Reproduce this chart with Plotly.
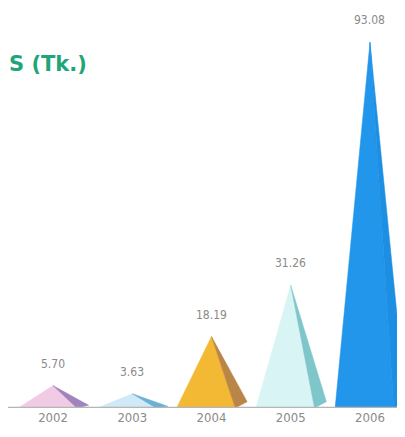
import plotly.graph_objects as go

years = ["2002", "2003", "2004", "2005", "2006"]
values = [5.70, 3.63, 18.19, 31.26, 93.08]
value_labels = ["5.70", "3.63", "18.19", "31.26", "93.08"]
front_colors = ["#f1cbe6", "#cfe9f6", "#f4b934", "#d9f4f4", "#2196ea"]
side_colors = ["#a184bb", "#6cb0d4", "#b98648", "#7fc6ca", "#1d8fe3"]
title_text = "S (Tk.)"

HALF_L = 0.44
FRONT_R = 0.30
SIDE_R = 0.45

fig = go.Figure()
for i, (yr, v) in enumerate(zip(years, values)):
    c = i
    lift = min(1.6, v * 0.12)
    fig.add_trace(go.Scatter(
        x=[c - HALF_L, c, c + FRONT_R, c - HALF_L],
        y=[0, v, 0, 0],
        fill="toself", fillcolor=front_colors[i], mode="lines",
        line=dict(width=0.5, color=front_colors[i]),
        hoverinfo="skip", showlegend=False))
    fig.add_trace(go.Scatter(
        x=[c, c + SIDE_R, c + FRONT_R, c],
        y=[v, lift, 0, v],
        fill="toself", fillcolor=side_colors[i], mode="lines",
        line=dict(width=0.5, color=side_colors[i]),
        hoverinfo="skip", showlegend=False))
    fig.add_annotation(x=c, y=v, text=value_labels[i], showarrow=False,
                       yshift=22, font=dict(family="Liberation Sans Narrow, DejaVu Sans Condensed, sans-serif",
                                            size=12, color="#8a8a8a"))

fig.add_shape(type="line", xref="paper", yref="y", x0=0.0, x1=1, y0=0, y1=0,
              line=dict(color="#b5b5b5", width=2.5))

fig.add_annotation(xref="paper", yref="paper", x=0, y=1, xanchor="left", yanchor="top",
                   xshift=0, yshift=-43, borderpad=0, text="<b>" + title_text + "</b>", showarrow=False,
                   font=dict(family="DejaVu Sans, sans-serif", size=21, color="#1fa57a"))

fig.update_layout(
    width=405, height=437,
    margin=dict(l=0, r=0, t=0, b=37),
    plot_bgcolor="white", paper_bgcolor="white",
    xaxis=dict(range=[-0.568, 4.543], tickmode="array", tickvals=list(range(len(years))),
               ticktext=years, showgrid=False, zeroline=False, showline=False,
               ticks="", tickfont=dict(family="Liberation Sans Narrow, DejaVu Sans Condensed, sans-serif",
                                       size=13, color="#8a8a8a")),
    yaxis=dict(range=[0, 101.8], visible=False, showgrid=False, zeroline=False),
)

fig.write_html("out.html")
